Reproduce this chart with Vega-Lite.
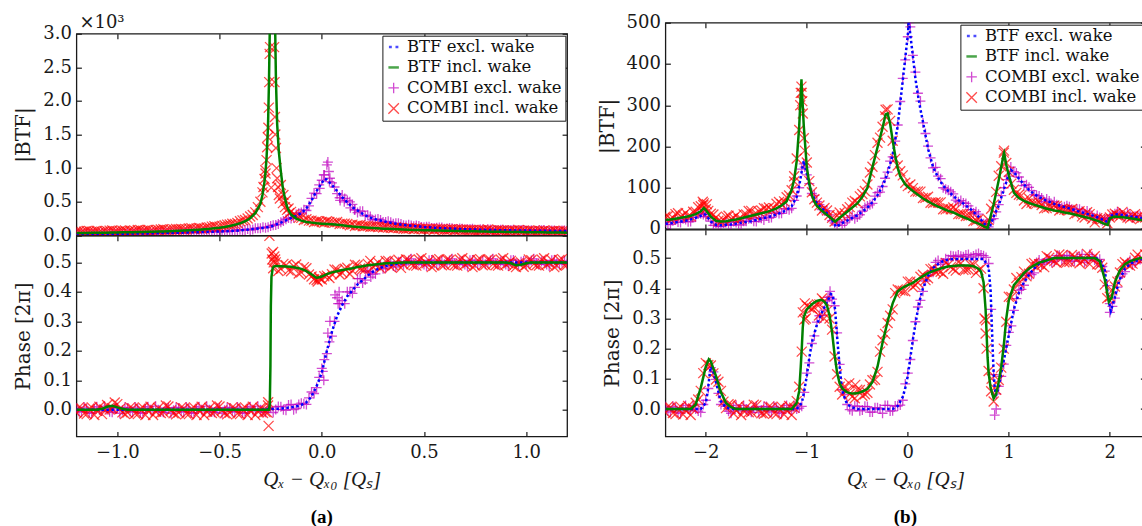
{
"$schema": "https://vega.github.io/schema/vega-lite/v6.json",
"padding": {"left": 12.4, "top": 8.7, "right": 0, "bottom": 0},
"config": {
  "font": "DejaVu Serif",
  "view": {"stroke": "#1a1a1a", "strokeWidth": 1.3},
  "axis": {"domain": false, "grid": false, "tickSize": -5, "tickWidth": 1.2, "tickColor": "#1a1a1a", "labelFont": "DejaVu Serif", "labelFontSize": 18, "labelColor": "#1a1a1a", "labelFlush": false, "labelOverlap": false, "labelBound": false, "titleFont": "DejaVu Serif", "titleFontSize": 20, "titleFontWeight": "normal", "titleColor": "#1a1a1a"},
  "axisX": {"labelPadding": 12, "titlePadding": 7},
  "axisY": {"labelPadding": 10, "titlePadding": 9},
  "legend": {"orient": "top-right", "offset": 2, "padding": 3, "strokeColor": "#1a1a1a", "fillColor": "white", "cornerRadius": 0, "labelFont": "DejaVu Serif", "labelFontSize": 16.5, "labelColor": "#111111", "rowPadding": 3.5, "symbolSize": 110, "labelOffset": 5, "labelLimit": 300}
},
"datasets": {
"A": [
{"x":-1.2,"m1":0.018,"m2":0.035,"m3":0.024,"m4":0.059,"p1":0,"p2":0,"p3":0.006,"p4":-0.01},
{"x":-1.175,"m1":0.019,"m2":0.036,"m3":0.015,"m4":0.05,"p1":0,"p2":0,"p3":-0.008,"p4":0.004},
{"x":-1.15,"m1":0.019,"m2":0.037,"m3":0.029,"m4":0.067,"p1":0,"p2":0,"p3":0.003,"p4":-0.015},
{"x":-1.125,"m1":0.02,"m2":0.038,"m3":0.02,"m4":0.056,"p1":0,"p2":0,"p3":-0.012,"p4":0.008},
{"x":-1.1,"m1":0.021,"m2":0.039,"m3":0.015,"m4":0.066,"p1":0,"p2":0,"p3":0.01,"p4":-0.004},
{"x":-1.075,"m1":0.022,"m2":0.04,"m3":0.034,"m4":0.052,"p1":0,"p2":0.003,"p3":-0.004,"p4":-0.015},
{"x":-1.05,"m1":0.022,"m2":0.041,"m3":0.025,"m4":0.063,"p1":0,"p2":0.01,"p3":0,"p4":0.016},
{"x":-1.025,"m1":0.023,"m2":0.042,"m3":0.021,"m4":0.074,"p1":0,"p2":0.013,"p3":-0.009,"p4":0.005},
{"x":-1,"m1":0.024,"m2":0.043,"m3":0.032,"m4":0.059,"p1":0,"p2":0.008,"p3":0.007,"p4":0.019},
{"x":-0.975,"m1":0.025,"m2":0.045,"m3":0.02,"m4":0.07,"p1":0,"p2":0.003,"p3":-0.002,"p4":-0.009},
{"x":-0.95,"m1":0.026,"m2":0.046,"m3":0.032,"m4":0.056,"p1":0,"p2":0,"p3":0.006,"p4":-0.01},
{"x":-0.925,"m1":0.027,"m2":0.048,"m3":0.023,"m4":0.062,"p1":0,"p2":0,"p3":-0.008,"p4":0.004},
{"x":-0.9,"m1":0.028,"m2":0.049,"m3":0.038,"m4":0.079,"p1":0,"p2":0,"p3":0.003,"p4":-0.015},
{"x":-0.875,"m1":0.029,"m2":0.051,"m3":0.029,"m4":0.069,"p1":0,"p2":0,"p3":-0.012,"p4":0.008},
{"x":-0.85,"m1":0.03,"m2":0.053,"m3":0.024,"m4":0.08,"p1":0,"p2":0,"p3":0.01,"p4":-0.004},
{"x":-0.825,"m1":0.032,"m2":0.055,"m3":0.044,"m4":0.067,"p1":0,"p2":0,"p3":-0.004,"p4":-0.018},
{"x":-0.8,"m1":0.033,"m2":0.057,"m3":0.036,"m4":0.079,"p1":0,"p2":0,"p3":0,"p4":0.006},
{"x":-0.775,"m1":0.035,"m2":0.059,"m3":0.033,"m4":0.091,"p1":0,"p2":0,"p3":-0.009,"p4":-0.008},
{"x":-0.75,"m1":0.036,"m2":0.062,"m3":0.044,"m4":0.078,"p1":0,"p2":0,"p3":0.007,"p4":0.011},
{"x":-0.725,"m1":0.038,"m2":0.065,"m3":0.033,"m4":0.09,"p1":0,"p2":0,"p3":-0.002,"p4":-0.012},
{"x":-0.7,"m1":0.04,"m2":0.068,"m3":0.046,"m4":0.092,"p1":0,"p2":0,"p3":0.006,"p4":-0.01},
{"x":-0.675,"m1":0.042,"m2":0.071,"m3":0.038,"m4":0.085,"p1":0,"p2":0,"p3":-0.008,"p4":0.004},
{"x":-0.65,"m1":0.044,"m2":0.075,"m3":0.054,"m4":0.105,"p1":0,"p2":0,"p3":0.003,"p4":-0.015},
{"x":-0.625,"m1":0.046,"m2":0.079,"m3":0.046,"m4":0.097,"p1":0,"p2":0,"p3":-0.012,"p4":0.008},
{"x":-0.6,"m1":0.048,"m2":0.084,"m3":0.042,"m4":0.111,"p1":0,"p2":0,"p3":0.01,"p4":-0.004},
{"x":-0.575,"m1":0.05,"m2":0.09,"m3":0.062,"m4":0.102,"p1":0,"p2":0,"p3":-0.004,"p4":-0.018},
{"x":-0.55,"m1":0.053,"m2":0.097,"m3":0.056,"m4":0.119,"p1":0,"p2":0,"p3":0,"p4":0.006},
{"x":-0.525,"m1":0.055,"m2":0.105,"m3":0.053,"m4":0.137,"p1":0,"p2":0,"p3":-0.009,"p4":-0.008},
{"x":-0.5,"m1":0.058,"m2":0.114,"m3":0.066,"m4":0.13,"p1":0,"p2":0,"p3":0.007,"p4":0.011},
{"x":-0.475,"m1":0.061,"m2":0.125,"m3":0.056,"m4":0.15,"p1":0,"p2":0,"p3":-0.002,"p4":-0.012},
{"x":-0.45,"m1":0.065,"m2":0.139,"m3":0.071,"m4":0.163,"p1":0,"p2":0,"p3":0.006,"p4":-0.01},
{"x":-0.425,"m1":0.069,"m2":0.157,"m3":0.065,"m4":0.171,"p1":0,"p2":0,"p3":-0.008,"p4":0.004},
{"x":-0.4,"m1":0.074,"m2":0.18,"m3":0.084,"m4":0.21,"p1":0,"p2":0,"p3":0.003,"p4":-0.015},
{"x":-0.375,"m1":0.081,"m2":0.21,"m3":0.081,"m4":0.228,"p1":0,"p2":0,"p3":-0.012,"p4":0.008},
{"x":-0.35,"m1":0.088,"m2":0.255,"m3":0.082,"m4":0.282,"p1":0,"p2":0,"p3":0.01,"p4":-0.004},
{"x":-0.325,"m1":0.096,"m2":0.33,"m3":0.108,"m4":0.342,"p1":0,"p2":0,"p3":-0.004,"p4":-0.018},
{"x":-0.3,"m1":0.105,"m2":0.47,"m3":0.108,"m4":0.5,"p1":0,"p2":0,"p3":0,"p4":0.006},
{"x":-0.275,"m1":0.117,"m2":0.95,"m3":0.115,"m4":0.92,"p1":0.001,"p2":0,"p3":-0.009,"p4":-0.008},
{"x":-0.25,"m1":0.13,"m3":0.138,"p1":0.002,"p3":0.009},
{"x":-0.225,"m1":0.16,"m3":0.155,"p1":0.003,"p2":0.488,"p3":0.001,"p4":0.5},
{"x":-0.2,"m1":0.19,"m2":0.95,"m3":0.196,"m4":0.75,"p1":0.004,"p2":0.487,"p3":0.01,"p4":0.478},
{"x":-0.175,"m1":0.225,"m2":0.49,"m3":0.24,"m4":0.52,"p1":0.006,"p2":0.486,"p3":-0.002,"p4":0.49},
{"x":-0.15,"m1":0.26,"m2":0.31,"m3":0.25,"m4":0.35,"p1":0.008,"p2":0.485,"p3":0.018,"p4":0.47},
{"x":-0.125,"m1":0.29,"m2":0.25,"m3":0.31,"m4":0.29,"p1":0.011,"p2":0.482,"p3":0.004,"p4":0.493},
{"x":-0.1,"m1":0.33,"m2":0.22,"m3":0.34,"m4":0.26,"p1":0.016,"p2":0.478,"p3":0.022,"p4":0.466},
{"x":-0.075,"m1":0.4,"m2":0.2,"m3":0.37,"m4":0.24,"p1":0.025,"p2":0.47,"p3":0.018,"p4":0.48},
{"x":-0.05,"m1":0.52,"m2":0.19,"m3":0.55,"m4":0.22,"p1":0.045,"p2":0.46,"p3":0.06,"p4":0.452},
{"x":-0.025,"m1":0.66,"m2":0.18,"m3":0.62,"m4":0.21,"p1":0.08,"p2":0.447,"p3":0.075,"p4":0.44},
{"x":0,"m1":0.78,"m2":0.175,"m3":0.82,"m4":0.2,"p1":0.125,"p2":0.452,"p3":0.14,"p4":0.442},
{"x":0.025,"m1":0.83,"m2":0.17,"m3":1.05,"m4":0.21,"p1":0.2,"p2":0.46,"p3":0.19,"p4":0.455},
{"x":0.05,"m1":0.75,"m2":0.165,"m3":0.78,"m4":0.19,"p1":0.265,"p2":0.466,"p3":0.25,"p4":0.46},
{"x":0.075,"m1":0.66,"m2":0.158,"m3":0.62,"m4":0.2,"p1":0.318,"p2":0.47,"p3":0.38,"p4":0.475},
{"x":0.1,"m1":0.57,"m2":0.15,"m3":0.6,"m4":0.175,"p1":0.355,"p2":0.474,"p3":0.37,"p4":0.465},
{"x":0.125,"m1":0.49,"m2":0.14,"m3":0.52,"m4":0.17,"p1":0.385,"p2":0.477,"p3":0.4,"p4":0.482},
{"x":0.15,"m1":0.42,"m2":0.132,"m3":0.46,"m4":0.16,"p1":0.405,"p2":0.48,"p3":0.395,"p4":0.472},
{"x":0.175,"m1":0.37,"m2":0.126,"m3":0.34,"m4":0.15,"p1":0.425,"p2":0.484,"p3":0.445,"p4":0.49},
{"x":0.2,"m1":0.32,"m2":0.12,"m3":0.36,"m4":0.135,"p1":0.44,"p2":0.487,"p3":0.43,"p4":0.478},
{"x":0.225,"m1":0.28,"m2":0.115,"m3":0.3,"m4":0.14,"p1":0.455,"p2":0.49,"p3":0.47,"p4":0.495},
{"x":0.25,"m1":0.25,"m2":0.11,"m3":0.23,"m4":0.13,"p1":0.468,"p2":0.492,"p3":0.46,"p4":0.485},
{"x":0.275,"m1":0.23,"m2":0.105,"m3":0.245,"m4":0.125,"p1":0.478,"p2":0.494,"p3":0.488,"p4":0.5},
{"x":0.3,"m1":0.21,"m2":0.1,"m3":0.2,"m4":0.118,"p1":0.485,"p2":0.496,"p3":0.478,"p4":0.49},
{"x":0.325,"m1":0.195,"m2":0.097,"m3":0.21,"m4":0.115,"p1":0.49,"p2":0.497,"p3":0.5,"p4":0.505},
{"x":0.35,"m1":0.18,"m2":0.094,"m3":0.175,"m4":0.11,"p1":0.493,"p2":0.498,"p3":0.488,"p4":0.49},
{"x":0.375,"m1":0.167,"m2":0.091,"m3":0.18,"m4":0.108,"p1":0.496,"p2":0.499,"p3":0.502,"p4":0.509},
{"x":0.4,"m1":0.155,"m2":0.088,"m3":0.15,"m4":0.1,"p1":0.498,"p2":0.5,"p3":0.492,"p4":0.493},
{"x":0.425,"m1":0.147,"m2":0.085,"m3":0.158,"m4":0.102,"p1":0.499,"p2":0.5,"p3":0.506,"p4":0.508},
{"x":0.45,"m1":0.14,"m2":0.082,"m3":0.135,"m4":0.095,"p1":0.5,"p2":0.5,"p3":0.495,"p4":0.49},
{"x":0.475,"m1":0.132,"m2":0.08,"m3":0.14,"m4":0.097,"p1":0.5,"p2":0.5,"p3":0.503,"p4":0.51},
{"x":0.5,"m1":0.125,"m2":0.078,"m3":0.12,"m4":0.09,"p1":0.5,"p2":0.5,"p3":0.493,"p4":0.494},
{"x":0.525,"m1":0.12,"m2":0.076,"m3":0.128,"m4":0.093,"p1":0.5,"p2":0.5,"p3":0.507,"p4":0.506},
{"x":0.55,"m1":0.115,"m2":0.074,"m3":0.11,"m4":0.085,"p1":0.5,"p2":0.5,"p3":0.497,"p4":0.489},
{"x":0.575,"m1":0.11,"m2":0.072,"m3":0.118,"m4":0.09,"p1":0.5,"p2":0.5,"p3":0.502,"p4":0.511},
{"x":0.6,"m1":0.105,"m2":0.07,"m3":0.1,"m4":0.083,"p1":0.5,"p2":0.5,"p3":0.494,"p4":0.492},
{"x":0.625,"m1":0.102,"m2":0.068,"m3":0.11,"m4":0.086,"p1":0.5,"p2":0.5,"p3":0.506,"p4":0.507},
{"x":0.65,"m1":0.098,"m2":0.067,"m3":0.095,"m4":0.079,"p1":0.5,"p2":0.5,"p3":0.496,"p4":0.49},
{"x":0.675,"m1":0.095,"m2":0.065,"m3":0.102,"m4":0.083,"p1":0.5,"p2":0.5,"p3":0.503,"p4":0.51},
{"x":0.7,"m1":0.092,"m2":0.063,"m3":0.088,"m4":0.075,"p1":0.5,"p2":0.5,"p3":0.493,"p4":0.493},
{"x":0.725,"m1":0.089,"m2":0.062,"m3":0.096,"m4":0.08,"p1":0.5,"p2":0.5,"p3":0.507,"p4":0.508},
{"x":0.75,"m1":0.087,"m2":0.06,"m3":0.083,"m4":0.072,"p1":0.5,"p2":0.5,"p3":0.497,"p4":0.489},
{"x":0.775,"m1":0.084,"m2":0.059,"m3":0.09,"m4":0.077,"p1":0.5,"p2":0.5,"p3":0.502,"p4":0.511},
{"x":0.8,"m1":0.082,"m2":0.057,"m3":0.078,"m4":0.069,"p1":0.5,"p2":0.5,"p3":0.494,"p4":0.492},
{"x":0.825,"m1":0.081,"m2":0.056,"m3":0.088,"m4":0.074,"p1":0.5,"p2":0.5,"p3":0.506,"p4":0.507},
{"x":0.85,"m1":0.079,"m2":0.055,"m3":0.076,"m4":0.067,"p1":0.5,"p2":0.5,"p3":0.496,"p4":0.49},
{"x":0.875,"m1":0.078,"m2":0.054,"m3":0.084,"m4":0.072,"p1":0.5,"p2":0.5,"p3":0.503,"p4":0.51},
{"x":0.9,"m1":0.076,"m2":0.052,"m3":0.073,"m4":0.064,"p1":0.5,"p2":0.5,"p3":0.493,"p4":0.493},
{"x":0.925,"m1":0.075,"m2":0.051,"m3":0.081,"m4":0.069,"p1":0.5,"p2":0.497,"p3":0.507,"p4":0.505},
{"x":0.95,"m1":0.074,"m2":0.05,"m3":0.071,"m4":0.062,"p1":0.5,"p2":0.49,"p3":0.497,"p4":0.484},
{"x":0.975,"m1":0.073,"m2":0.049,"m3":0.079,"m4":0.067,"p1":0.5,"p2":0.492,"p3":0.502,"p4":0.5},
{"x":1,"m1":0.072,"m2":0.048,"m3":0.069,"m4":0.06,"p1":0.5,"p2":0.497,"p3":0.494,"p4":0.491},
{"x":1.025,"m1":0.071,"m2":0.047,"m3":0.077,"m4":0.065,"p1":0.5,"p2":0.5,"p3":0.506,"p4":0.507},
{"x":1.05,"m1":0.07,"m2":0.046,"m3":0.067,"m4":0.058,"p1":0.5,"p2":0.5,"p3":0.496,"p4":0.49},
{"x":1.075,"m1":0.069,"m2":0.045,"m3":0.075,"m4":0.063,"p1":0.5,"p2":0.5,"p3":0.503,"p4":0.51},
{"x":1.1,"m1":0.068,"m2":0.044,"m3":0.065,"m4":0.056,"p1":0.5,"p2":0.5,"p3":0.493,"p4":0.493},
{"x":1.125,"m1":0.067,"m2":0.043,"m3":0.073,"m4":0.061,"p1":0.5,"p2":0.5,"p3":0.507,"p4":0.508},
{"x":1.15,"m1":0.066,"m2":0.042,"m3":0.063,"m4":0.054,"p1":0.5,"p2":0.5,"p3":0.497,"p4":0.489},
{"x":1.175,"m1":0.066,"m2":0.042,"m3":0.072,"m4":0.06,"p1":0.5,"p2":0.5,"p3":0.502,"p4":0.511},
{"x":1.2,"m1":0.065,"m2":0.041,"m3":0.062,"m4":0.053,"p1":0.5,"p2":0.5,"p3":0.494,"p4":0.492},
{"x":-0.29,"m2":0.6,"m4":0.64},
{"x":-0.285,"m4":0.72},
{"x":-0.28,"m2":0.8,"m4":0.84},
{"x":-0.276,"m4":0.97},
{"x":-0.27,"m2":1.15,"m4":1.12},
{"x":-0.267,"m4":1.31},
{"x":-0.264,"m4":1.46},
{"x":-0.263,"m2":1.6},
{"x":-0.261,"m4":1.6},
{"x":-0.259,"m4":1.9},
{"x":-0.258,"m2":2.3,"p2":0},
{"x":-0.257,"m4":2.28},
{"x":-0.255,"m4":2.7},
{"x":-0.253,"m2":3.3,"m4":2.8},
{"x":-0.247,"m4":0.71},
{"x":-0.241,"m2":6},
{"x":-0.233,"m4":2.8},
{"x":-0.231,"m4":2.28},
{"x":-0.229,"m2":3.3,"m4":1.76},
{"x":-0.227,"m4":1.5},
{"x":-0.224,"m2":2.3,"m4":1.3},
{"x":-0.221,"m4":1.0},
{"x":-0.218,"m2":1.65,"m4":0.85},
{"x":-0.214,"m4":0.72},
{"x":-0.21,"m2":1.25,"m4":0.6},
{"x":-0.205,"m4":0.55},
{"x":-0.19,"m2":0.7,"m4":0.48},
{"x":-0.18,"m2":0.55,"m4":0.42},
{"x":-0.17,"m2":0.43,"m4":0.38},
{"x":-0.16,"m2":0.36,"m4":0.33},
{"x":-0.01,"m3":0.7,"p4":0.445},
{"x":0.01,"m3":0.9,"p3":0.1},
{"x":0.015,"m1":0.84},
{"x":0.03,"m3":1.09,"p3":0.26},
{"x":0.035,"m3":0.95},
{"x":0.04,"m3":0.85,"p3":0.3},
{"x":0.09,"m3":0.52},
{"x":0.11,"m3":0.5},
{"x":0.14,"m3":0.41},
{"x":0.16,"m3":0.38},
{"x":-0.254,"p2":0.02},
{"x":-0.251,"p2":0.15},
{"x":-0.249,"p2":0.35},
{"x":-0.246,"p2":0.45},
{"x":-0.24,"p2":0.48},
{"x":-0.235,"p2":0.486,"p4":0.5},
{"x":-0.265,"p4":-0.01},
{"x":-0.262,"p4":0.025},
{"x":-0.26,"p4":-0.055},
{"x":-0.256,"p4":0.59},
{"x":-0.245,"p4":0.53},
{"x":-0.242,"p4":0.51},
{"x":-0.238,"p4":0.535},
{"x":-0.232,"p4":0.52},
{"x":-0.228,"p4":0.51},
{"x":-0.02,"p4":0.435},
{"x":0.005,"p3":0.13},
{"x":0.065,"p3":0.39},
{"x":0.08,"p3":0.36},
{"x":0.085,"p3":0.4},
{"x":0.215,"p3":0.47},
{"x":0.24,"p3":0.45},
{"x":-1.1875,"m3":0.016,"m4":0.0615,"p3":-0.006,"p4":0.008},
{"x":-1.1625,"m3":0.026,"m4":0.0535,"p3":0.009,"p4":-0.013},
{"x":-1.1375,"m3":0.02,"m4":0.0665,"p3":-0.01,"p4":0.003},
{"x":-1.1125,"m3":0.03,"m4":0.0585,"p3":0.004,"p4":-0.018},
{"x":-1.0875,"m3":0.017,"m4":0.0525,"p3":0,"p4":0.01},
{"x":-1.0625,"m3":0.026,"m4":0.0645,"p3":0.012,"p4":0.0005},
{"x":-1.0375,"m3":0.034,"m4":0.0715,"p3":-0.007,"p4":0.0005},
{"x":-1.0125,"m3":0.021,"m4":0.0575,"p3":0.005,"p4":0.0245},
{"x":-0.9875,"m3":0.031,"m4":0.066,"p3":-0.012,"p4":0.0025},
{"x":-0.9625,"m3":0.019,"m4":0.0735,"p3":0.008,"p4":-0.0145},
{"x":-0.9375,"m3":0.024,"m4":0.073,"p3":-0.006,"p4":0.008},
{"x":-0.9125,"m3":0.035,"m4":0.0655,"p3":0.009,"p4":-0.013},
{"x":-0.8875,"m3":0.029,"m4":0.079,"p3":-0.01,"p4":0.003},
{"x":-0.8625,"m3":0.039,"m4":0.072,"p3":0.004,"p4":-0.018},
{"x":-0.8375,"m3":0.026,"m4":0.067,"p3":0,"p4":0.01},
{"x":-0.8125,"m3":0.037,"m4":0.08,"p3":0.012,"p4":-0.006},
{"x":-0.7875,"m3":0.045,"m4":0.088,"p3":-0.007,"p4":-0.011},
{"x":-0.7625,"m3":0.034,"m4":0.0755,"p3":0.005,"p4":0.014},
{"x":-0.7375,"m3":0.043,"m4":0.0855,"p3":-0.012,"p4":-0.003},
{"x":-0.7125,"m3":0.033,"m4":0.0945,"p3":0.008,"p4":-0.016},
{"x":-0.6875,"m3":0.038,"m4":0.0955,"p3":-0.006,"p4":0.008},
{"x":-0.6625,"m3":0.05,"m4":0.09,"p3":0.009,"p4":-0.013},
{"x":-0.6375,"m3":0.045,"m4":0.106,"p3":-0.01,"p4":0.003},
{"x":-0.6125,"m3":0.056,"m4":0.1015,"p3":0.004,"p4":-0.018},
{"x":-0.5875,"m3":0.044,"m4":0.1,"p3":0,"p4":0.01},
{"x":-0.5625,"m3":0.0555,"m4":0.1175,"p3":0.012,"p4":-0.006},
{"x":-0.5375,"m3":0.065,"m4":0.131,"p3":-0.007,"p4":-0.011},
{"x":-0.5125,"m3":0.0545,"m4":0.1245,"p3":0.005,"p4":0.014},
{"x":-0.4875,"m3":0.0655,"m4":0.1415,"p3":-0.012,"p4":-0.003},
{"x":-0.4625,"m3":0.057,"m4":0.16,"p3":0.008,"p4":-0.016},
{"x":-0.4375,"m3":0.064,"m4":0.174,"p3":-0.006,"p4":0.008},
{"x":-0.4125,"m3":0.0785,"m4":0.1855,"p3":0.009,"p4":-0.013},
{"x":-0.3875,"m3":0.0775,"m4":0.224,"p3":-0.01,"p4":0.003},
{"x":-0.3625,"m3":0.0935,"m4":0.2525,"p3":0.004,"p4":-0.018},
{"x":-0.3375,"m3":0.087,"m4":0.303,"p3":0,"p4":0.01},
{"x":-0.3125,"m3":0.1045,"m4":0.42,"p3":0.012,"p4":-0.006},
{"x":-0.2875,"m3":0.122,"p3":-0.007,"p4":-0.011},
{"x":-0.2625,"m3":0.1215,"p3":0.005,"p4":0.014},
{"x":-0.2375,"m3":0.151,"p3":-0.0095,"p4":0.48},
{"x":-0.2125,"m3":0.169,"p3":0.011,"p4":0.471},
{"x":-0.1875,"m3":0.2155,"m4":0.6,"p3":0,"p4":0.495},
{"x":-0.1625,"m3":0.26,"m4":0.4,"p3":0.016,"p4":0.473},
{"x":-0.1375,"m3":0.265,"m4":0.31,"p3":0,"p4":0.487},
{"x":-0.1125,"m3":0.33,"m4":0.26,"p3":0.018,"p4":0.462},
{"x":-0.0875,"m3":0.38,"m4":0.23,"p3":0.02,"p4":0.484},
{"x":-0.0625,"m3":0.44,"m4":0.22,"p3":0.04,"p4":0.459},
{"x":-0.0375,"m3":0.63,"m4":0.2,"p3":0.055,"p4":0.443},
{"x":-0.0125,"m3":0.75,"m4":0.21,"p3":0.11,"p4":0.45},
{"x":0.0125,"m3":0.9,"m4":0.19,"p3":0.17,"p4":0.453},
{"x":0.0375,"m3":0.8,"m4":0.2,"p3":0.23,"p4":0.447},
{"x":0.0625,"m3":0.72,"m4":0.19,"p3":0.3,"p4":0.476},
{"x":0.0875,"m3":0.56,"m4":0.17,"p3":0.36,"p4":0.459},
{"x":0.1125,"m3":0.55,"m4":0.175,"p3":0.36,"p4":0.4785},
{"x":0.1375,"m3":0.5,"m4":0.15,"p3":0.4,"p4":0.4605},
{"x":0.1625,"m3":0.38,"m4":0.14,"p3":0.415,"p4":0.492},
{"x":0.1875,"m3":0.36,"m4":0.15,"p3":0.445,"p4":0.4795},
{"x":0.2125,"m3":0.29,"m4":0.14,"p3":0.44,"p4":0.4775},
{"x":0.2375,"m3":0.28,"m4":0.128,"p3":0.466,"p4":0.505},
{"x":0.2625,"m3":0.235,"m4":0.13,"p3":0.461,"p4":0.49},
{"x":0.2875,"m3":0.23,"m4":0.13,"p3":0.49,"p4":0.479},
{"x":0.3125,"m3":0.2,"m4":0.124,"p3":0.481,"p4":0.5045},
{"x":0.3375,"m3":0.197,"m4":0.112,"p3":0.5,"p4":0.4845},
{"x":0.3625,"m3":0.18,"m4":0.122,"p3":0.484,"p4":0.5015},
{"x":0.3875,"m3":0.17,"m4":0.11,"p3":0.501,"p4":0.4815},
{"x":0.4125,"m3":0.146,"m4":0.1,"p3":0.499,"p4":0.51},
{"x":0.4375,"m3":0.148,"m4":0.108,"p3":0.512,"p4":0.494},
{"x":0.4625,"m3":0.147,"m4":0.111,"p3":0.493,"p4":0.489},
{"x":0.4875,"m3":0.1265,"m4":0.094,"p3":0.505,"p4":0.514},
{"x":0.5125,"m3":0.1285,"m4":0.099,"p3":0.488,"p4":0.497},
{"x":0.5375,"m3":0.1115,"m4":0.101,"p3":0.508,"p4":0.484},
{"x":0.5625,"m3":0.1155,"m4":0.097,"p3":0.494,"p4":0.508},
{"x":0.5875,"m3":0.1185,"m4":0.091,"p3":0.505,"p4":0.49},
{"x":0.6125,"m3":0.1015,"m4":0.084,"p3":0.5,"p4":0.51},
{"x":0.6375,"m3":0.106,"m4":0.0935,"p3":0.512,"p4":0.494},
{"x":0.6625,"m3":0.0935,"m4":0.09,"p3":0.493,"p4":0.489},
{"x":0.6875,"m3":0.1005,"m4":0.084,"p3":0.505,"p4":0.514},
{"x":0.7125,"m3":0.0905,"m4":0.0825,"p3":0.488,"p4":0.497},
{"x":0.7375,"m3":0.097,"m4":0.081,"p3":0.508,"p4":0.484},
{"x":0.7625,"m3":0.0805,"m4":0.0725,"p3":0.494,"p4":0.508},
{"x":0.7875,"m3":0.087,"m4":0.082,"p3":0.505,"p4":0.49},
{"x":0.8125,"m3":0.0925,"m4":0.0865,"p3":0.5,"p4":0.51},
{"x":0.8375,"m3":0.078,"m4":0.0705,"p3":0.512,"p4":0.494},
{"x":0.8625,"m3":0.0755,"m4":0.0805,"p3":0.493,"p4":0.489},
{"x":0.8875,"m3":0.084,"m4":0.073,"p3":0.505,"p4":0.514},
{"x":0.9125,"m3":0.0755,"m4":0.0645,"p3":0.488,"p4":0.497},
{"x":0.9375,"m3":0.0835,"m4":0.0745,"p3":0.508,"p4":0.488},
{"x":0.9625,"m3":0.0715,"m4":0.0795,"p3":0.494,"p4":0.497},
{"x":0.9875,"m3":0.0785,"m4":0.0735,"p3":0.505,"p4":0.485},
{"x":1.0125,"m3":0.0685,"m4":0.0745,"p3":0.5,"p4":0.51},
{"x":1.0375,"m3":0.0665,"m4":0.0615,"p3":0.512,"p4":0.494},
{"x":1.0625,"m3":0.0765,"m4":0.0695,"p3":0.493,"p4":0.489},
{"x":1.0875,"m3":0.0795,"m4":0.0745,"p3":0.505,"p4":0.514},
{"x":1.1125,"m3":0.0655,"m4":0.0585,"p3":0.488,"p4":0.497},
{"x":1.1375,"m3":0.0725,"m4":0.0705,"p3":0.508,"p4":0.484},
{"x":1.1625,"m3":0.06,"m4":0.0655,"p3":0.494,"p4":0.508},
{"x":1.1875,"m3":0.0725,"m4":0.0655,"p3":0.505,"p4":0.49}
],
"B": [
{"x":-2.4,"m1":13,"m2":22,"m3":17,"m4":30,"p1":0,"p2":0,"p3":0.008,"p4":-0.012},
{"x":-2.35,"m1":14,"m2":23,"m3":11,"m4":24,"p1":0,"p2":0,"p3":-0.01,"p4":0.005},
{"x":-2.3,"m1":16,"m2":25,"m3":22,"m4":36,"p1":0,"p2":0,"p3":0.004,"p4":-0.017},
{"x":-2.25,"m1":18,"m2":27,"m3":16,"m4":30,"p1":0,"p2":0,"p3":-0.014,"p4":0.008},
{"x":-2.2,"m1":20,"m2":29,"m3":23,"m4":39,"p1":0,"p2":0,"p3":0.012,"p4":-0.005},
{"x":-2.15,"m1":23,"m2":32,"m3":18,"m4":31,"p1":0,"p2":0,"p3":-0.006,"p4":-0.02},
{"x":-2.1,"m1":27,"m2":36,"m3":29,"m4":42,"p1":0,"p2":0.015,"p3":0,"p4":0.021},
{"x":-2.05,"m1":32,"m2":43,"m3":37,"m4":55,"p1":0,"p2":0.07,"p3":-0.011,"p4":0.06},
{"x":-2,"m1":34,"m2":46,"m3":30,"m4":48,"p1":0.02,"p2":0.14,"p3":0.029,"p4":0.152},
{"x":-1.95,"m1":18,"m2":30,"m3":19,"m4":37,"p1":0.14,"p2":0.158,"p3":0.137,"p4":0.144},
{"x":-1.9,"m1":10,"m2":20,"m3":14,"m4":28,"p1":0.09,"p2":0.11,"p3":0.098,"p4":0.098},
{"x":-1.85,"m1":9,"m2":18,"m3":6,"m4":19,"p1":0.025,"p2":0.055,"p3":0.015,"p4":0.06},
{"x":-1.8,"m1":10,"m2":19,"m3":16,"m4":30,"p1":0.005,"p2":0.02,"p3":0.009,"p4":0.003},
{"x":-1.75,"m1":11,"m2":21,"m3":9,"m4":24,"p1":0,"p2":0.006,"p3":-0.014,"p4":0.014},
{"x":-1.7,"m1":13,"m2":23,"m3":16,"m4":33,"p1":0,"p2":0,"p3":0.012,"p4":-0.005},
{"x":-1.65,"m1":15,"m2":26,"m3":10,"m4":25,"p1":0,"p2":0,"p3":-0.006,"p4":-0.02},
{"x":-1.6,"m1":17,"m2":29,"m3":19,"m4":35,"p1":0,"p2":0,"p3":0,"p4":0.006},
{"x":-1.55,"m1":19,"m2":32,"m3":24,"m4":44,"p1":0,"p2":0,"p3":-0.011,"p4":-0.01},
{"x":-1.5,"m1":22,"m2":35,"m3":18,"m4":37,"p1":0,"p2":0,"p3":0.009,"p4":0.012},
{"x":-1.45,"m1":25,"m2":38,"m3":26,"m4":45,"p1":0,"p2":0,"p3":-0.003,"p4":-0.014},
{"x":-1.4,"m1":28,"m2":41,"m3":32,"m4":49,"p1":0,"p2":0,"p3":0.008,"p4":-0.012},
{"x":-1.35,"m1":31,"m2":45,"m3":28,"m4":46,"p1":0,"p2":0,"p3":-0.01,"p4":0.005},
{"x":-1.3,"m1":35,"m2":50,"m3":41,"m4":61,"p1":0,"p2":0,"p3":0.004,"p4":-0.017},
{"x":-1.25,"m1":40,"m2":57,"m3":38,"m4":60,"p1":0,"p2":0,"p3":-0.014,"p4":0.008},
{"x":-1.2,"m1":46,"m2":67,"m3":49,"m4":77,"p1":0,"p2":0,"p3":0.012,"p4":-0.005},
{"x":-1.15,"m1":55,"m2":95,"m3":50,"m4":94,"p1":0,"p2":0,"p3":-0.006,"p4":-0.02},
{"x":-1.1,"m1":78,"m2":165,"m3":80,"m4":171,"p1":0,"p2":0.02,"p3":0,"p4":0.026},
{"x":-1.05,"m1":140,"m2":345,"m3":145,"m4":330,"p1":0.02,"p2":0.2,"p3":0.009,"p4":0.19},
{"x":-1,"m1":135,"m2":150,"m3":131,"m4":161,"p1":0.11,"p2":0.33,"p3":0.119,"p4":0.342},
{"x":-0.95,"m1":85,"m2":82,"m3":86,"m4":89,"p1":0.22,"p2":0.347,"p3":0.217,"p4":0.333},
{"x":-0.9,"m1":62,"m2":56,"m3":66,"m4":64,"p1":0.28,"p2":0.358,"p3":0.288,"p4":0.346},
{"x":-0.85,"m1":50,"m2":44,"m3":47,"m4":45,"p1":0.32,"p2":0.361,"p3":0.31,"p4":0.366},
{"x":-0.8,"m1":38,"m2":34,"m3":44,"m4":45,"p1":0.355,"p2":0.342,"p3":0.359,"p4":0.325},
{"x":-0.75,"m1":22,"m2":24,"m3":20,"m4":27,"p1":0.378,"p2":0.255,"p3":0.364,"p4":0.263},
{"x":-0.7,"m1":7,"m2":22,"m3":10,"m4":32,"p1":0.24,"p2":0.12,"p3":0.252,"p4":0.115},
{"x":-0.65,"m1":14,"m2":32,"m3":9,"m4":31,"p1":0.07,"p2":0.068,"p3":0.064,"p4":0.048},
{"x":-0.6,"m1":20,"m2":42,"m3":22,"m4":48,"p1":0.015,"p2":0.055,"p3":0.015,"p4":0.061},
{"x":-0.55,"m1":27,"m2":52,"m3":32,"m4":64,"p1":0.005,"p2":0.051,"p3":-0.006,"p4":0.041},
{"x":-0.5,"m1":33,"m2":62,"m3":29,"m4":64,"p1":0,"p2":0.052,"p3":0.009,"p4":0.064},
{"x":-0.45,"m1":42,"m2":78,"m3":43,"m4":85,"p1":0,"p2":0.058,"p3":-0.003,"p4":0.044},
{"x":-0.4,"m1":52,"m2":100,"m3":56,"m4":108,"p1":0,"p2":0.066,"p3":0.008,"p4":0.054},
{"x":-0.35,"m1":65,"m2":150,"m3":62,"m4":151,"p1":0,"p2":0.09,"p3":-0.01,"p4":0.095},
{"x":-0.3,"m1":82,"m2":198,"m3":88,"m4":209,"p1":0,"p2":0.14,"p3":0.004,"p4":0.123},
{"x":-0.25,"m1":105,"m2":245,"m3":103,"m4":248,"p1":0,"p2":0.22,"p3":-0.014,"p4":0.228},
{"x":-0.2,"m1":135,"m2":280,"m3":138,"m4":290,"p1":0,"p2":0.29,"p3":0.012,"p4":0.285},
{"x":-0.15,"m1":180,"m2":215,"m3":175,"m4":214,"p1":0,"p2":0.35,"p3":-0.006,"p4":0.33},
{"x":-0.1,"m1":250,"m2":148,"m3":252,"m4":154,"p1":0.01,"p2":0.39,"p3":0.01,"p4":0.396},
{"x":-0.05,"m1":360,"m2":118,"m3":365,"m4":130,"p1":0.04,"p2":0.402,"p3":0.029,"p4":0.392},
{"x":0,"m1":470,"m2":102,"m3":466,"m4":104,"p1":0.11,"p2":0.41,"p3":0.119,"p4":0.422},
{"x":0.05,"m1":420,"m2":92,"m3":421,"m4":99,"p1":0.23,"p2":0.418,"p3":0.227,"p4":0.404},
{"x":0.1,"m1":325,"m2":83,"m3":329,"m4":91,"p1":0.33,"p2":0.43,"p3":0.338,"p4":0.418},
{"x":0.15,"m1":260,"m2":74,"m3":257,"m4":75,"p1":0.4,"p2":0.44,"p3":0.39,"p4":0.445},
{"x":0.2,"m1":195,"m2":67,"m3":201,"m4":78,"p1":0.44,"p2":0.45,"p3":0.444,"p4":0.433},
{"x":0.25,"m1":150,"m2":60,"m3":148,"m4":63,"p1":0.467,"p2":0.457,"p3":0.453,"p4":0.465},
{"x":0.3,"m1":125,"m2":54,"m3":128,"m4":64,"p1":0.48,"p2":0.463,"p3":0.492,"p4":0.458},
{"x":0.35,"m1":105,"m2":49,"m3":100,"m4":48,"p1":0.49,"p2":0.468,"p3":0.484,"p4":0.448},
{"x":0.4,"m1":92,"m2":44,"m3":94,"m4":50,"p1":0.495,"p2":0.472,"p3":0.495,"p4":0.478},
{"x":0.45,"m1":80,"m2":40,"m3":85,"m4":52,"p1":0.497,"p2":0.474,"p3":0.506,"p4":0.464},
{"x":0.5,"m1":70,"m2":34,"m3":66,"m4":36,"p1":0.497,"p2":0.475,"p3":0.51,"p4":0.487},
{"x":0.55,"m1":62,"m2":29,"m3":63,"m4":36,"p1":0.497,"p2":0.475,"p3":0.504,"p4":0.461},
{"x":0.6,"m1":52,"m2":24,"m3":56,"m4":32,"p1":0.497,"p2":0.475,"p3":0.512,"p4":0.463},
{"x":0.65,"m1":42,"m2":18,"m3":39,"m4":19,"p1":0.497,"p2":0.473,"p3":0.507,"p4":0.478},
{"x":0.7,"m1":30,"m2":13,"m3":36,"m4":24,"p1":0.497,"p2":0.465,"p3":0.515,"p4":0.46},
{"x":0.75,"m1":15,"m2":7,"m3":13,"m4":10,"p1":0.497,"p2":0.42,"p3":0.508,"p4":0.4},
{"x":0.8,"m1":2,"m2":12,"m3":5,"m4":22,"p1":0.47,"p2":0.12,"p3":0.482,"p4":0.126},
{"x":0.85,"m1":30,"m2":60,"m3":25,"m4":59,"p1":0.12,"p2":0.035,"p3":0.114,"p4":0.025},
{"x":0.9,"m1":57,"m2":118,"m3":59,"m4":129,"p1":0.075,"p2":0.09,"p3":0.075,"p4":0.096},
{"x":0.95,"m1":95,"m2":183,"m3":100,"m4":185,"p1":0.16,"p2":0.21,"p3":0.149,"p4":0.2},
{"x":1,"m1":132,"m2":130,"m3":128,"m4":138,"p1":0.245,"p2":0.36,"p3":0.254,"p4":0.372},
{"x":1.05,"m1":138,"m2":88,"m3":139,"m4":95,"p1":0.33,"p2":0.41,"p3":0.327,"p4":0.396},
{"x":1.1,"m1":122,"m2":75,"m3":126,"m4":83,"p1":0.385,"p2":0.43,"p3":0.393,"p4":0.418},
{"x":1.15,"m1":108,"m2":68,"m3":105,"m4":69,"p1":0.42,"p2":0.45,"p3":0.41,"p4":0.455},
{"x":1.2,"m1":95,"m2":63,"m3":101,"m4":74,"p1":0.445,"p2":0.465,"p3":0.449,"p4":0.448},
{"x":1.25,"m1":85,"m2":59,"m3":83,"m4":62,"p1":0.465,"p2":0.476,"p3":0.451,"p4":0.484},
{"x":1.3,"m1":77,"m2":55,"m3":80,"m4":65,"p1":0.482,"p2":0.485,"p3":0.494,"p4":0.48},
{"x":1.35,"m1":71,"m2":51,"m3":66,"m4":50,"p1":0.49,"p2":0.49,"p3":0.484,"p4":0.47},
{"x":1.4,"m1":66,"m2":48,"m3":68,"m4":54,"p1":0.495,"p2":0.495,"p3":0.495,"p4":0.501},
{"x":1.45,"m1":61,"m2":45,"m3":66,"m4":57,"p1":0.5,"p2":0.5,"p3":0.489,"p4":0.49},
{"x":1.5,"m1":57,"m2":43,"m3":53,"m4":45,"p1":0.5,"p2":0.5,"p3":0.509,"p4":0.512},
{"x":1.55,"m1":53,"m2":40,"m3":54,"m4":47,"p1":0.5,"p2":0.5,"p3":0.497,"p4":0.486},
{"x":1.6,"m1":50,"m2":38,"m3":54,"m4":46,"p1":0.5,"p2":0.5,"p3":0.508,"p4":0.488},
{"x":1.65,"m1":46,"m2":35,"m3":43,"m4":36,"p1":0.5,"p2":0.5,"p3":0.49,"p4":0.505},
{"x":1.7,"m1":42,"m2":32,"m3":48,"m4":43,"p1":0.5,"p2":0.5,"p3":0.504,"p4":0.483},
{"x":1.75,"m1":38,"m2":29,"m3":36,"m4":28,"p1":0.5,"p2":0.5,"p3":0.486,"p4":0.495},
{"x":1.8,"m1":35,"m2":26,"m3":38,"m4":36,"p1":0.5,"p2":0.5,"p3":0.512,"p4":0.48},
{"x":1.85,"m1":31,"m2":22,"m3":26,"m4":16,"p1":0.5,"p2":0.5,"p3":0.494,"p4":0.506},
{"x":1.9,"m1":26,"m2":18,"m3":28,"m4":24,"p1":0.496,"p2":0.49,"p3":0.496,"p4":0.478},
{"x":1.95,"m1":20,"m2":12,"m3":25,"m4":24,"p1":0.46,"p2":0.43,"p3":0.457,"p4":0.412},
{"x":2,"m1":31,"m2":26,"m3":27,"m4":28,"p1":0.34,"p2":0.36,"p3":0.349,"p4":0.372},
{"x":2.05,"m1":36,"m2":30,"m3":37,"m4":37,"p1":0.37,"p2":0.42,"p3":0.367,"p4":0.406},
{"x":2.1,"m1":35,"m2":29,"m3":39,"m4":31,"p1":0.43,"p2":0.46,"p3":0.438,"p4":0.452},
{"x":2.15,"m1":33,"m2":28,"m3":30,"m4":36,"p1":0.465,"p2":0.48,"p3":0.455,"p4":0.486},
{"x":2.2,"m1":30,"m2":26,"m3":33,"m4":26,"p1":0.48,"p2":0.49,"p3":0.492,"p4":0.475},
{"x":2.25,"m1":29,"m2":24,"m3":31,"m4":36,"p1":0.49,"p2":0.495,"p3":0.484,"p4":0.501},
{"x":2.3,"m1":27,"m2":22,"m3":32,"m4":24,"p1":0.495,"p2":0.5,"p3":0.495,"p4":0.49},
{"x":2.35,"m1":25,"m2":21,"m3":21,"m4":28,"p1":0.5,"p2":0.5,"p3":0.5,"p4":0.512},
{"x":-2.03,"m4":66},
{"x":-2.02,"m1":36,"m2":51,"m3":40,"m4":62},
{"x":-1.99,"m4":60},
{"x":-1.125,"m2":120,"m4":115},
{"x":-1.075,"m1":105,"m2":250,"m3":100,"m4":240,"p2":0.06},
{"x":-1.065,"m4":300},
{"x":-1.06,"m4":330,"p2":0.14},
{"x":-1.053,"m2":363,"m4":345},
{"x":-1.045,"m4":310},
{"x":-1.04,"m4":280,"p2":0.27,"p4":0.32},
{"x":-1.03,"m1":165,"m2":250,"m3":158,"m4":220,"p2":0.305},
{"x":-1.02,"m3":150,"m4":190,"p4":0.35},
{"x":-1.01,"p4":0.3},
{"x":-0.975,"m1":105,"m2":110,"m3":110,"m4":116,"p1":0.17},
{"x":-0.925,"m2":66,"p1":0.25},
{"x":-0.72,"m2":18,"p1":0.33},
{"x":-0.71,"m1":5},
{"x":-0.22,"m2":278,"m4":289},
{"x":-0.175,"m2":255,"m4":262},
{"x":-0.125,"m2":178,"m4":170},
{"x":-0.075,"m2":128,"m4":140},
{"x":-0.025,"m2":108,"m4":112,"p1":0.07},
{"x":0.01,"m1":505,"m3":500},
{"x":0.025,"m1":470,"m3":490,"p1":0.17},
{"x":0.075,"m1":365,"m3":380,"p1":0.28},
{"x":0.125,"m1":290,"m3":310,"p1":0.37},
{"x":0.79,"m2":2,"p2":0.17},
{"x":0.805,"m1":1},
{"x":0.953,"m2":185,"m4":190},
{"x":0.975,"m2":155,"m4":160,"p2":0.3},
{"x":1.02,"m1":143,"m3":150},
{"x":1.98,"m1":17,"m2":10,"p1":0.38},
{"x":-1.98,"p1":0.06},
{"x":-1.97,"p2":0.165},
{"x":-1.96,"p1":0.12},
{"x":-1.93,"p1":0.13},
{"x":-1.87,"p1":0.05},
{"x":-1.025,"p1":0.06},
{"x":-0.88,"p4":0.31},
{"x":-0.86,"p2":0.362},
{"x":-0.83,"p4":0.3},
{"x":-0.825,"p2":0.355},
{"x":-0.79,"p3":0.37},
{"x":-0.775,"p2":0.31},
{"x":-0.77,"p3":0.39},
{"x":-0.76,"p1":0.381},
{"x":-0.74,"p1":0.37},
{"x":-0.725,"p2":0.18},
{"x":-0.68,"p1":0.16},
{"x":-0.675,"p2":0.085},
{"x":-0.66,"p1":0.09},
{"x":-0.64,"p1":0.05},
{"x":-0.58,"p4":0.085},
{"x":-0.52,"p4":0.08},
{"x":0.725,"p2":0.455},
{"x":0.76,"p4":0.3},
{"x":0.77,"p2":0.33,"p4":0.25},
{"x":0.78,"p4":0.2},
{"x":0.82,"p1":0.39,"p2":0.07},
{"x":0.83,"p4":0.1},
{"x":0.84,"p1":0.2},
{"x":0.86,"p1":0.07,"p3":-0.02},
{"x":0.875,"p1":0.045,"p2":0.05,"p3":0.0},
{"x":0.925,"p1":0.12,"p2":0.14},
{"x":1.99,"p2":0.355},
{"x":2.0,"p3":0.32},
{"x":2.01,"p1":0.325},
{"x":2.02,"p2":0.37},
{"x":2.08,"p1":0.41},
{"x":-2.375,"m3":10.5,"m4":31.5,"p3":-0.006,"p4":0.008},
{"x":-2.325,"m3":20,"m4":27,"p3":0.009,"p4":-0.013},
{"x":-2.275,"m3":17,"m4":38,"p3":-0.01,"p4":0.003},
{"x":-2.225,"m3":25,"m4":33,"p3":0.004,"p4":-0.018},
{"x":-2.175,"m3":17.5,"m4":30.5,"p3":0,"p4":0.01},
{"x":-2.125,"m3":28,"m4":42,"p3":0.012,"p4":0.0015},
{"x":-2.075,"m3":36.5,"m4":52.5,"p3":-0.007,"p4":0.0315},
{"x":-2.025,"m3":35,"m4":58,"p3":0.015,"p4":0.119},
{"x":-1.975,"m3":30,"m4":44,"p3":0.068,"p4":0.146},
{"x":-1.925,"m3":9,"m4":35,"p3":0.123,"p4":0.118},
{"x":-1.875,"m3":6.5,"m4":20,"p3":0.0515,"p4":0.0905},
{"x":-1.825,"m3":14.5,"m4":21.5,"p3":0.024,"p4":0.0245},
{"x":-1.775,"m3":10.5,"m4":32,"p3":-0.0075,"p4":0.016},
{"x":-1.725,"m3":18,"m4":27,"p3":0.004,"p4":-0.015},
{"x":-1.675,"m3":10,"m4":24.5,"p3":0,"p4":0.01},
{"x":-1.625,"m3":19,"m4":35.5,"p3":0.012,"p4":-0.006},
{"x":-1.575,"m3":25,"m4":43.5,"p3":-0.007,"p4":-0.011},
{"x":-1.525,"m3":18.5,"m4":34.5,"p3":0.005,"p4":0.014},
{"x":-1.475,"m3":27.5,"m4":42.5,"p3":-0.012,"p4":-0.003},
{"x":-1.425,"m3":21.5,"m4":50.5,"p3":0.008,"p4":-0.016},
{"x":-1.375,"m3":26.5,"m4":52,"p3":-0.006,"p4":0.008},
{"x":-1.325,"m3":38,"m4":50.5,"p3":0.009,"p4":-0.013},
{"x":-1.275,"m3":37.5,"m4":65.5,"p3":-0.01,"p4":0.003},
{"x":-1.225,"m3":49,"m4":67,"p3":0.004,"p4":-0.018},
{"x":-1.175,"m3":46.5,"m4":81,"p3":0,"p4":0.01},
{"x":-1.125,"m3":69.5,"m4":128,"p3":0.012,"p4":0.004},
{"x":-1.075,"p3":0.003,"p4":0.074},
{"x":-1.025,"p3":0.055,"p4":0.296},
{"x":-0.975,"p3":0.153,"p4":0.336},
{"x":-0.925,"m3":81.5,"m4":72,"p3":0.242,"p4":0.3365},
{"x":-0.875,"m3":59,"m4":57,"p3":0.309,"p4":0.3465},
{"x":-0.825,"m3":44,"m4":51,"p3":0.3275,"p4":0.358},
{"x":-0.775,"m3":34,"m4":34,"p3":0.3705,"p4":0.3},
{"x":-0.725,"m3":14.5,"m4":18,"p3":0.342,"p4":0.174},
{"x":-0.675,"m3":17.5,"m4":40,"p3":0.148,"p4":0.074},
{"x":-0.625,"m3":15,"m4":38,"p3":0.0475,"p4":0.0755},
{"x":-0.575,"m3":27.5,"m4":53,"p3":-0.002,"p4":0.05},
{"x":-0.525,"m3":25,"m4":68,"p3":0.0105,"p4":0.0355},
{"x":-0.475,"m3":34.5,"m4":79,"p3":-0.006,"p4":0.063},
{"x":-0.425,"m3":52,"m4":92,"p3":0.009,"p4":0.049},
{"x":-0.375,"m3":58.5,"m4":137,"p3":-0.01,"p4":0.081},
{"x":-0.325,"m3":79.5,"m4":179,"p3":0.004,"p4":0.097},
{"x":-0.275,"m3":89.5,"m4":221.5,"p3":0,"p4":0.19},
{"x":-0.225,"m3":123,"m4":273,"p3":0.012,"p4":0.249},
{"x":-0.175,"m3":164.5,"p3":-0.007,"p4":0.309},
{"x":-0.125,"m3":213,"p3":0.01,"p4":0.384},
{"x":-0.075,"m3":309,"p3":0.013,"p4":0.393},
{"x":-0.025,"m3":410,"p3":0.083,"p4":0.39},
{"x":0.025,"m4":108,"p3":0.164,"p4":0.422},
{"x":0.075,"m4":90.5,"p3":0.289,"p4":0.411},
{"x":0.125,"m4":90.5,"p3":0.36,"p4":0.438},
{"x":0.175,"m3":231.5,"m4":75.5,"p3":0.424,"p4":0.427},
{"x":0.225,"m3":172.5,"m4":63.5,"p3":0.4535,"p4":0.4635},
{"x":0.275,"m3":149.5,"m4":65,"p3":0.4855,"p4":0.454},
{"x":0.325,"m3":122,"m4":64.5,"p3":0.478,"p4":0.4545},
{"x":0.375,"m3":96.5,"m4":47.5,"p3":0.4975,"p4":0.484},
{"x":0.425,"m3":90,"m4":48,"p3":0.508,"p4":0.47},
{"x":0.475,"m3":70,"m4":48,"p3":0.505,"p4":0.4585},
{"x":0.525,"m3":69,"m4":36.5,"p3":0.506,"p4":0.483},
{"x":0.575,"m3":62,"m4":31.5,"p3":0.51,"p4":0.462},
{"x":0.625,"m3":47,"m4":33,"p3":0.503,"p4":0.477},
{"x":0.675,"m3":42,"m4":20.5,"p3":0.512,"p4":0.451},
{"x":0.725,"m3":18.5,"m4":10,"p3":0.51,"p4":0.465},
{"x":0.775,"m3":11.5,"m4":10,"p3":0.502,"p4":0.294},
{"x":0.825,"m3":23,"m4":49,"p3":0.33,"p4":0.059},
{"x":0.875,"m3":41.5,"m4":90,"p3":0.05,"p4":0.064},
{"x":0.925,"m3":81,"m4":152,"p3":0.108,"p4":0.137},
{"x":0.975,"m3":119.5,"p3":0.2105,"p4":0.289},
{"x":1.025,"m4":110,"p3":0.2755,"p4":0.371},
{"x":1.075,"m3":136,"m4":87.5,"p3":0.3655,"p4":0.434},
{"x":1.125,"m3":115,"m4":81.5,"p3":0.3965,"p4":0.437},
{"x":1.175,"m3":107.5,"m4":60.5,"p3":0.4415,"p4":0.4395},
{"x":1.225,"m3":93,"m4":64,"p3":0.445,"p4":0.4805},
{"x":1.275,"m3":81,"m4":62,"p3":0.4855,"p4":0.4695},
{"x":1.325,"m3":75,"m4":58,"p3":0.479,"p4":0.4765},
{"x":1.375,"m3":72.5,"m4":50.5,"p3":0.497,"p4":0.5065},
{"x":1.425,"m3":59.5,"m4":52.5,"p3":0.486,"p4":0.4945},
{"x":1.475,"m3":59,"m4":56,"p3":0.508,"p4":0.484},
{"x":1.525,"m3":52,"m4":48.5,"p3":0.494,"p4":0.508},
{"x":1.575,"m3":56.5,"m4":46,"p3":0.509,"p4":0.487},
{"x":1.625,"m3":48,"m4":48.5,"p3":0.49,"p4":0.51},
{"x":1.675,"m3":48,"m4":38.5,"p3":0.504,"p4":0.497},
{"x":1.725,"m3":43,"m4":30.5,"p3":0.512,"p4":0.489},
{"x":1.775,"m3":43.5,"m4":40.5,"p3":0.493,"p4":0.514},
{"x":1.825,"m3":31,"m4":25,"p3":0.505,"p4":0.497},
{"x":1.875,"m3":32.5,"m4":26,"p3":0.488,"p4":0.479},
{"x":1.925,"m3":20,"m4":24,"p3":0.472,"p4":0.468},
{"x":1.975,"m3":23,"m4":14,"p3":0.409,"p4":0.367},
{"x":2.025,"m3":33.5,"m4":35,"p3":0.34,"p4":0.393},
{"x":2.075,"m3":41.5,"m4":32.5,"p3":0.404,"p4":0.422},
{"x":2.125,"m3":34,"m4":41.5,"p3":0.4475,"p4":0.48},
{"x":2.175,"m3":38.5,"m4":28,"p3":0.4845,"p4":0.479},
{"x":2.225,"m3":27.5,"m4":31,"p3":0.478,"p4":0.4815},
{"x":2.275,"m3":32,"m4":29,"p3":0.4975,"p4":0.5115},
{"x":2.325,"m3":21,"m4":27.5,"p3":0.4855,"p4":0.497}
]
},
"hconcat": [
 {
  "vconcat": [
   {"width": 490.7, "height": 24.6, "data": {"values": [{"k": 1}]}, "mark": {"type": "point", "opacity": 0}, "view": {"stroke": null}},
   {
    "width": 490.7, "height": 201.7,
    "title": {"text": "×10³", "anchor": "start", "frame": "group", "offset": -7, "dx": 3, "fontSize": 18, "fontWeight": "normal", "font": "DejaVu Serif", "color": "#1a1a1a"},
    "layer": [
     {
      "data": {"name": "A"},
      "transform": [{"fold": ["m1","m2","m3","m4"], "as": ["s","v"]}, {"filter": "isValid(datum.v)"}],
      "encoding": {
       "x": {"field": "x", "type": "quantitative", "scale": {"domain": [-1.2, 1.2], "nice": false, "zero": false}, "axis": {"orient": "bottom", "values": [-1,-0.5,0,0.5,1], "labels": false, "title": null}},
       "y": {"field": "v", "type": "quantitative", "scale": {"domain": [0, 3], "nice": false, "zero": false}, "axis": {"values": [0,0.5,1,1.5,2,2.5,3], "format": ".1f", "title": "|BTF|"}},
       "color": {"field": "s", "type": "nominal", "scale": {"domain": ["m1","m2","m3","m4"], "range": ["#0000ff","#008000","#bf00bf","#ff0000"]}, "legend": {"title": null, "labelExpr": "datum.label == 'm1' ? 'BTF excl. wake' : datum.label == 'm2' ? 'BTF incl. wake' : datum.label == 'm3' ? 'COMBI excl. wake' : 'COMBI incl. wake'"}},
       "strokeWidth": {"field": "s", "type": "ordinal", "scale": {"type": "ordinal", "domain": ["m1","m2","m3","m4"], "range": [2.5,2.5,1.3,1.3]}, "legend": {"title": null, "labelExpr": "datum.label == 'm1' ? 'BTF excl. wake' : datum.label == 'm2' ? 'BTF incl. wake' : datum.label == 'm3' ? 'COMBI excl. wake' : 'COMBI incl. wake'"}}
      },
      "layer": [
       {"transform": [{"filter": "datum.s == 'm3'"}], "mark": {"type": "point", "filled": false, "size": 100, "clip": true}, "encoding": {"shape": {"field": "s", "type": "nominal", "scale": {"domain": ["m1","m2","m3","m4"], "range": ["M-0.9,0H-0.35M0.35,0H0.9","M-1,0H1","M-1,0H1M0,-1V1","M-1,-1L1,1M-1,1L1,-1"]}, "legend": {"title": null, "labelExpr": "datum.label == 'm1' ? 'BTF excl. wake' : datum.label == 'm2' ? 'BTF incl. wake' : datum.label == 'm3' ? 'COMBI excl. wake' : 'COMBI incl. wake'"}}}},
       {"transform": [{"filter": "datum.s == 'm4'"}], "mark": {"type": "point", "filled": false, "size": 100, "clip": true}, "encoding": {"shape": {"field": "s", "type": "nominal"}}},
       {"transform": [{"filter": "datum.s == 'm1'"}], "mark": {"type": "line", "strokeDash": [2.5, 2.5], "clip": true}},
       {"transform": [{"filter": "datum.s == 'm2'"}], "mark": {"type": "line", "clip": true}}
      ]
     },
     {
      "data": {"values": [{"x": 0, "y": 0}]},
      "mark": {"type": "point", "opacity": 0},
      "encoding": {
       "x": {"field": "x", "type": "quantitative", "scale": {"domain": [-1.2, 1.2], "nice": false, "zero": false}, "axis": {"orient": "top", "values": [-1,-0.5,0,0.5,1], "labels": false, "title": null}},
       "y": {"field": "y", "type": "quantitative", "scale": {"domain": [0, 3], "nice": false, "zero": false}, "axis": {"orient": "right", "values": [0,0.5,1,1.5,2,2.5,3], "labels": false, "title": null}}
      }
     }
    ],
    "resolve": {"scale": {"x": "independent", "y": "independent"}}
   },
   {
    "width": 490.7, "height": 200.7,
    "title": {"text": "(a)", "orient": "bottom", "offset": 19, "font": "Liberation Serif", "fontSize": 19, "fontWeight": "bold", "color": "#000000"},
    "layer": [
     {
      "data": {"name": "A"},
      "transform": [{"fold": ["p1","p2","p3","p4"], "as": ["s","v"]}, {"filter": "isValid(datum.v)"}],
      "encoding": {
       "x": {"field": "x", "type": "quantitative", "scale": {"domain": [-1.2, 1.2], "nice": false, "zero": false}, "axis": {"orient": "bottom", "values": [-1,-0.5,0,0.5,1], "format": ".1f", "title": "Qₓ − Qₓ₀  [Qₛ]", "titleFont": "Liberation Serif", "titleFontStyle": "italic", "titleFontSize": 21}},
       "y": {"field": "v", "type": "quantitative", "scale": {"domain": [-0.0906, 0.5906], "nice": false, "zero": false}, "axis": {"values": [0,0.1,0.2,0.3,0.4,0.5], "format": ".1f", "title": "Phase [2π]"}},
       "color": {"field": "s", "type": "nominal", "scale": {"domain": ["p1","p2","p3","p4"], "range": ["#0000ff","#008000","#bf00bf","#ff0000"]}, "legend": null},
       "strokeWidth": {"field": "s", "type": "ordinal", "scale": {"type": "ordinal", "domain": ["p1","p2","p3","p4"], "range": [2.5,2.5,1.3,1.3]}, "legend": null}
      },
      "layer": [
       {"transform": [{"filter": "datum.s == 'p3'"}], "mark": {"type": "point", "filled": false, "size": 100, "clip": true}, "encoding": {"shape": {"field": "s", "type": "nominal", "scale": {"domain": ["p1","p2","p3","p4"], "range": ["M-0.9,0H-0.35M0.35,0H0.9","M-1,0H1","M-1,0H1M0,-1V1","M-1,-1L1,1M-1,1L1,-1"]}, "legend": null}}},
       {"transform": [{"filter": "datum.s == 'p4'"}], "mark": {"type": "point", "filled": false, "size": 100, "clip": true}, "encoding": {"shape": {"field": "s", "type": "nominal", "legend": null}}},
       {"transform": [{"filter": "datum.s == 'p1'"}], "mark": {"type": "line", "strokeDash": [2.5, 2.5], "clip": true}},
       {"transform": [{"filter": "datum.s == 'p2'"}], "mark": {"type": "line", "clip": true}}
      ]
     },
     {
      "data": {"values": [{"x": 0, "y": 0}]},
      "mark": {"type": "point", "opacity": 0},
      "encoding": {
       "x": {"field": "x", "type": "quantitative", "scale": {"domain": [-1.2, 1.2], "nice": false, "zero": false}, "axis": {"orient": "top", "values": [-1,-0.5,0,0.5,1], "labels": false, "title": null}},
       "y": {"field": "y", "type": "quantitative", "scale": {"domain": [-0.0906, 0.5906], "nice": false, "zero": false}, "axis": {"orient": "right", "values": [0,0.1,0.2,0.3,0.4,0.5], "labels": false, "title": null}}
      }
     }
    ],
    "resolve": {"scale": {"x": "independent", "y": "independent"}}
   }
  ],
  "spacing": 0,
  "bounds": "flush",
  "resolve": {"scale": {"color": "independent", "shape": "independent", "strokeWidth": "independent"}}
 },
 {
  "vconcat": [
   {"width": 480, "height": 14, "data": {"values": [{"k": 1}]}, "mark": {"type": "point", "opacity": 0}, "view": {"stroke": null}},
   {
    "width": 480, "height": 206.3,
    "layer": [
     {
      "data": {"name": "B"},
      "transform": [{"fold": ["m1","m2","m3","m4"], "as": ["s","v"]}, {"filter": "isValid(datum.v)"}],
      "encoding": {
       "x": {"field": "x", "type": "quantitative", "scale": {"domain": [-2.4, 2.352], "nice": false, "zero": false}, "axis": {"orient": "bottom", "values": [-2,-1,0,1,2], "labels": false, "title": null}},
       "y": {"field": "v", "type": "quantitative", "scale": {"domain": [0, 500], "nice": false, "zero": false}, "axis": {"values": [0,100,200,300,400,500], "format": "d", "title": "|BTF|"}},
       "color": {"field": "s", "type": "nominal", "scale": {"domain": ["m1","m2","m3","m4"], "range": ["#0000ff","#008000","#bf00bf","#ff0000"]}, "legend": {"title": null, "labelExpr": "datum.label == 'm1' ? 'BTF excl. wake' : datum.label == 'm2' ? 'BTF incl. wake' : datum.label == 'm3' ? 'COMBI excl. wake' : 'COMBI incl. wake'"}},
       "strokeWidth": {"field": "s", "type": "ordinal", "scale": {"type": "ordinal", "domain": ["m1","m2","m3","m4"], "range": [2.5,2.5,1.3,1.3]}, "legend": {"title": null, "labelExpr": "datum.label == 'm1' ? 'BTF excl. wake' : datum.label == 'm2' ? 'BTF incl. wake' : datum.label == 'm3' ? 'COMBI excl. wake' : 'COMBI incl. wake'"}}
      },
      "layer": [
       {"transform": [{"filter": "datum.s == 'm3'"}], "mark": {"type": "point", "filled": false, "size": 100, "clip": true}, "encoding": {"shape": {"field": "s", "type": "nominal", "scale": {"domain": ["m1","m2","m3","m4"], "range": ["M-0.9,0H-0.35M0.35,0H0.9","M-1,0H1","M-1,0H1M0,-1V1","M-1,-1L1,1M-1,1L1,-1"]}, "legend": {"title": null, "labelExpr": "datum.label == 'm1' ? 'BTF excl. wake' : datum.label == 'm2' ? 'BTF incl. wake' : datum.label == 'm3' ? 'COMBI excl. wake' : 'COMBI incl. wake'"}}}},
       {"transform": [{"filter": "datum.s == 'm4'"}], "mark": {"type": "point", "filled": false, "size": 100, "clip": true}, "encoding": {"shape": {"field": "s", "type": "nominal"}}},
       {"transform": [{"filter": "datum.s == 'm1'"}], "mark": {"type": "line", "strokeDash": [2.5, 2.5], "clip": true}},
       {"transform": [{"filter": "datum.s == 'm2'"}], "mark": {"type": "line", "clip": true}}
      ]
     },
     {
      "data": {"values": [{"x": 0, "y": 0}]},
      "mark": {"type": "point", "opacity": 0},
      "encoding": {
       "x": {"field": "x", "type": "quantitative", "scale": {"domain": [-2.4, 2.352], "nice": false, "zero": false}, "axis": {"orient": "top", "values": [-2,-1,0,1,2], "labels": false, "title": null}},
       "y": {"field": "y", "type": "quantitative", "scale": {"domain": [0, 500], "nice": false, "zero": false}, "axis": {"orient": "right", "values": [0,100,200,300,400,500], "labels": false, "title": null}}
      }
     }
    ],
    "resolve": {"scale": {"x": "independent", "y": "independent"}}
   },
   {
    "width": 480, "height": 206.7,
    "title": {"text": "(b)", "orient": "bottom", "offset": 19, "font": "Liberation Serif", "fontSize": 19, "fontWeight": "bold", "color": "#000000"},
    "layer": [
     {
      "data": {"name": "B"},
      "transform": [{"fold": ["p1","p2","p3","p4"], "as": ["s","v"]}, {"filter": "isValid(datum.v)"}],
      "encoding": {
       "x": {"field": "x", "type": "quantitative", "scale": {"domain": [-2.4, 2.352], "nice": false, "zero": false}, "axis": {"orient": "bottom", "values": [-2,-1,0,1,2], "format": "d", "title": "Qₓ − Qₓ₀  [Qₛ]", "titleFont": "Liberation Serif", "titleFontStyle": "italic", "titleFontSize": 21}},
       "y": {"field": "v", "type": "quantitative", "scale": {"domain": [-0.0907, 0.594], "nice": false, "zero": false}, "axis": {"values": [0,0.1,0.2,0.3,0.4,0.5], "format": ".1f", "title": "Phase [2π]"}},
       "color": {"field": "s", "type": "nominal", "scale": {"domain": ["p1","p2","p3","p4"], "range": ["#0000ff","#008000","#bf00bf","#ff0000"]}, "legend": null},
       "strokeWidth": {"field": "s", "type": "ordinal", "scale": {"type": "ordinal", "domain": ["p1","p2","p3","p4"], "range": [2.5,2.5,1.3,1.3]}, "legend": null}
      },
      "layer": [
       {"transform": [{"filter": "datum.s == 'p3'"}], "mark": {"type": "point", "filled": false, "size": 100, "clip": true}, "encoding": {"shape": {"field": "s", "type": "nominal", "scale": {"domain": ["p1","p2","p3","p4"], "range": ["M-0.9,0H-0.35M0.35,0H0.9","M-1,0H1","M-1,0H1M0,-1V1","M-1,-1L1,1M-1,1L1,-1"]}, "legend": null}}},
       {"transform": [{"filter": "datum.s == 'p4'"}], "mark": {"type": "point", "filled": false, "size": 100, "clip": true}, "encoding": {"shape": {"field": "s", "type": "nominal", "legend": null}}},
       {"transform": [{"filter": "datum.s == 'p1'"}], "mark": {"type": "line", "strokeDash": [2.5, 2.5], "clip": true}},
       {"transform": [{"filter": "datum.s == 'p2'"}], "mark": {"type": "line", "clip": true}}
      ]
     },
     {
      "data": {"values": [{"x": 0, "y": 0}]},
      "mark": {"type": "point", "opacity": 0},
      "encoding": {
       "x": {"field": "x", "type": "quantitative", "scale": {"domain": [-2.4, 2.352], "nice": false, "zero": false}, "axis": {"orient": "top", "values": [-2,-1,0,1,2], "labels": false, "title": null}},
       "y": {"field": "y", "type": "quantitative", "scale": {"domain": [-0.0907, 0.594], "nice": false, "zero": false}, "axis": {"orient": "right", "values": [0,0.1,0.2,0.3,0.4,0.5], "labels": false, "title": null}}
      }
     }
    ],
    "resolve": {"scale": {"x": "independent", "y": "independent"}}
   }
  ],
  "spacing": 0,
  "bounds": "flush",
  "resolve": {"scale": {"color": "independent", "shape": "independent", "strokeWidth": "independent"}}
 }
],
"spacing": 27,
"resolve": {"scale": {"color": "independent", "shape": "independent", "strokeWidth": "independent"}}
}
